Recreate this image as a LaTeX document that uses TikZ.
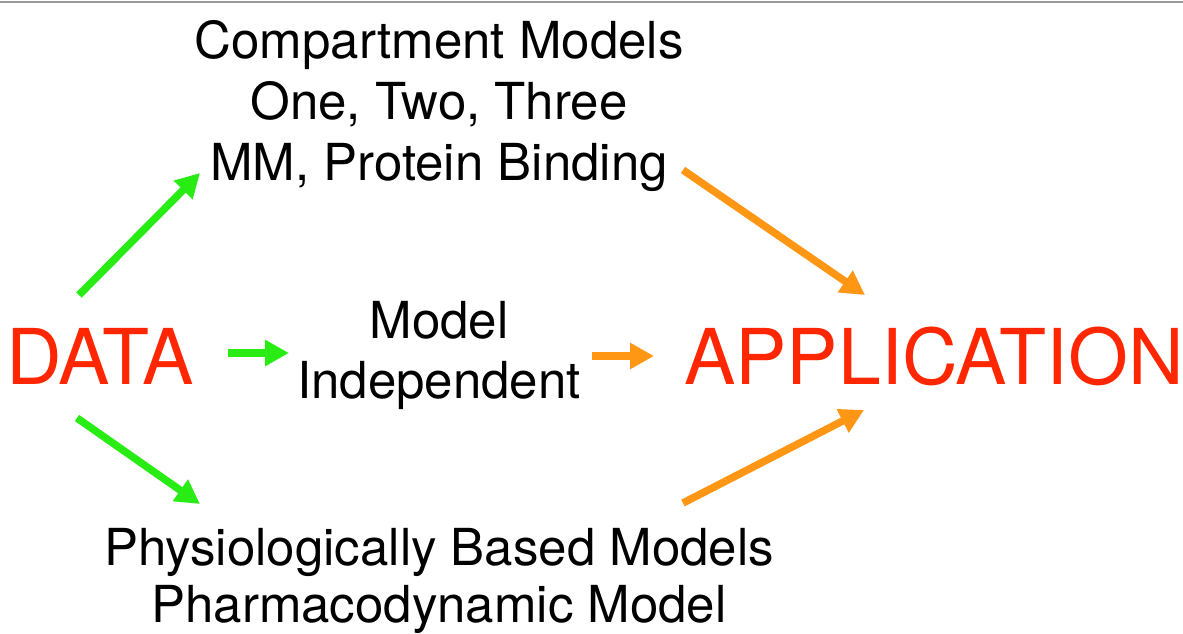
\documentclass[tikz,border=0pt]{standalone}
\usepackage{fontspec}
\setmainfont{TeX Gyre Heros}
\usetikzlibrary{arrows.meta}
\definecolor{datared}{RGB}{255,38,0}
\definecolor{arrgreen}{RGB}{40,236,20}
\definecolor{arrorange}{RGB}{255,150,20}
\tikzset{
  body/.style={inner sep=0pt, align=center, text=black, font=\fontsize{51}{61}\selectfont},
  big/.style={inner sep=0pt, text=datared, font=\fontsize{77}{82}\selectfont},
  garrow/.style={draw=arrgreen, line width=7.5pt, -{Triangle[length=24pt,width=25pt]}},
  oarrow/.style={draw=arrorange, line width=7.5pt, -{Triangle[length=24pt,width=25pt]}}
}
\begin{document}
\begin{tikzpicture}[x=1pt,y=-1pt]
\useasboundingbox (0,0) rectangle (1183,633);
\fill[white] (0,0) rectangle (1183,633);
\draw[gray!80, line width=2pt] (0,2) -- (1183,2);

\node[big, anchor=base west] (data) at (6,384) {DATA};
\node[big, anchor=base west] (app) at (684,384) {APPLICATION};

\node[body, anchor=base] (comp) at (439,180) {Compartment Models\\One, Two, Three\\MM, Protein Binding};
\node[body, anchor=base, font=\fontsize{51}{60}\selectfont] (indep) at (439,398) {Model\\Independent};
\node[body, anchor=base, font=\fontsize{51}{57}\selectfont] (pbpk) at (439,622) {Physiologically Based Models\\Pharmacodynamic Model};

\coordinate (g1s) at (79,295);  \coordinate (g1e) at (200,173);
\coordinate (g2s) at (228,353); \coordinate (g2e) at (289,353);
\coordinate (g3s) at (77,418);  \coordinate (g3e) at (200,504);
\coordinate (o1s) at (683,170); \coordinate (o1e) at (865,295);
\coordinate (o2s) at (592,356); \coordinate (o2e) at (654,356);
\coordinate (o3s) at (683,503); \coordinate (o3e) at (864,410);

\draw[garrow] (g1s) -- (g1e);
\draw[garrow] (g2s) -- (g2e);
\draw[garrow] (g3s) -- (g3e);
\draw[oarrow] (o1s) -- (o1e);
\draw[oarrow] (o2s) -- (o2e);
\draw[oarrow] (o3s) -- (o3e);
\end{tikzpicture}
\end{document}
